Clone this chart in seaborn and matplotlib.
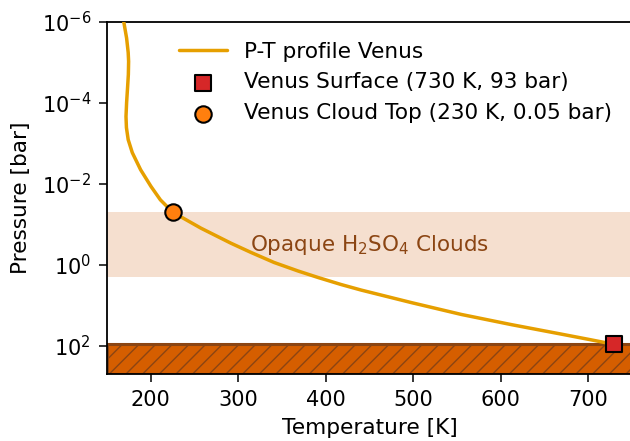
import numpy as np
import pandas as pd
import matplotlib
matplotlib.use("Agg")
import matplotlib.pyplot as plt
import seaborn as sns

# P-T profile
temperature = [169.1, 172.3, 174.1, 174.6, 174.3, 173.4, 172.3, 171.6, 172.1, 174.1, 178.8,
               188.3, 200.2, 210.9, 224.9, 257.3, 291.6, 314.5, 340.9, 368.4, 391.3,
               417.6, 440.5, 497.8, 555, 612.4, 669.6, 700.6, 730]
pressure = [1e-6, 2.5e-6, 5.64e-6, 9.4e-6, 1.98e-5, 4.15e-5, 9.8e-5, 2.17e-4, 4.07e-4,
            8.07e-4, 1.69e-3, 4.47e-3, 0.0116, 0.0248, 0.05, 0.1245, 0.293, 0.495,
            0.877, 1.426, 2.065, 3.08, 4.22, 8.6, 16.9, 30.2, 51.9, 69.8, 93]

surface_T, surface_P = 730, 93
cloud_T, cloud_P = 225, 0.05
cloud_band = (0.05, 2.0)
surface_band = (93, 500)

df = pd.DataFrame({"T": temperature, "P": pressure})

sns.set_style("ticks")
plt.rcParams["font.family"] = ["DejaVu Sans"]
plt.rcParams["text.color"] = "black"
plt.rcParams["axes.labelcolor"] = "black"
plt.rcParams["xtick.color"] = "black"
plt.rcParams["ytick.color"] = "black"

fig = plt.figure(figsize=(6.3, 4.41), dpi=100)
ax = fig.add_axes([0.170, 0.152, 0.833, 0.798])

ax.axhspan(*cloud_band, color="#f5dfcf", lw=0, zorder=0)
ax.axhspan(*surface_band, facecolor="#d55e00", edgecolor="#8b4513",
           hatch="//", lw=2.2, zorder=1)

sns.lineplot(data=df, x="T", y="P", sort=False, estimator=None, ax=ax,
             color="#e69f00", lw=2.5, label="P-T profile Venus", zorder=3)
ax.scatter([surface_T], [surface_P], marker="s", s=140, color="#d62728",
           edgecolor="black", lw=1.5, zorder=5, label="Venus Surface (730 K, 93 bar)")
ax.scatter([cloud_T], [cloud_P], marker="o", s=140, color="#ff7f0e",
           edgecolor="black", lw=1.5, zorder=5, label="Venus Cloud Top (230 K, 0.05 bar)")

ax.text(450, np.sqrt(cloud_band[0] * cloud_band[1]), "Opaque H$_2$SO$_4$ Clouds",
        color="#8b4513", fontsize=15.5, ha="center", va="center", zorder=2)

ax.set_yscale("log")
ax.set_ylim(500, 1e-6)
ax.set_xlim(150, 750)
ax.set_yticks([1e-6, 1e-4, 1e-2, 1e0, 1e2])
ax.yaxis.set_minor_locator(matplotlib.ticker.NullLocator())
ax.set_xticks([200, 300, 400, 500, 600, 700])
ax.tick_params(labelsize=15, length=5.5, pad=6, width=1.1, colors="black")
for s in ax.spines.values():
    s.set_color("black")
    s.set_linewidth(1.3)
ax.set_xlabel("Temperature [K]", fontsize=15.6, labelpad=6, color="black")
ax.set_ylabel("Pressure [bar]", fontsize=15.6, labelpad=8, color="black")

leg = ax.legend(loc="upper right", frameon=False, fontsize=15.6, handlelength=2.2,
                bbox_to_anchor=(1.0, 1.0))
for t in leg.get_texts():
    t.set_color("black")

fig.savefig("out.png", dpi=100)
